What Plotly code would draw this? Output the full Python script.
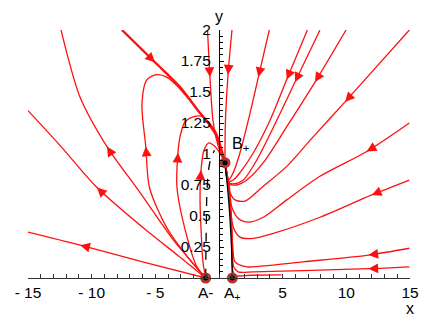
import numpy as np
import plotly.graph_objects as go

# fixed points
pt_x = [-1.05, 1.05, 0.47]
pt_y = [0.0, 0.0, 0.93]

# trajectories leaving A- (flow order)
l1_x = [-1.05, -6.0, -10.9, -15.0]
l1_y = [0.0, 0.13, 0.265, 0.37]
l2_x = [-1.05, -3.2, -5.42, -9.58, -12.49, -15.0]
l2_y = [0.0, 0.18, 0.36, 0.73, 1.07, 1.35]
l3_x = [-1.05, -2.3, -3.61, -6.21, -8.8, -10.92, -11.94, -12.45]
l3_y = [0.0, 0.15, 0.31, 0.69, 1.06, 1.46, 1.81, 2.02]
l4_x = [-1.05, -2.4, -4.13, -5.46, -5.75, -6.05, -5.66, -4.9, -4.1, -3.2, -1.49, -0.31, 0.47]
l4_y = [0.0, 0.16, 0.41, 0.73, 1.06, 1.40, 1.60, 1.64, 1.62, 1.54, 1.33, 1.18, 0.93]
l5_x = [-1.05, -1.73, -2.51, -3.3, -3.22, -3.06, -2.67, -2.04, -1.26, -0.71, -0.31, 0.47]
l5_y = [0.0, 0.09, 0.33, 0.73, 1.01, 1.14, 1.26, 1.30, 1.30, 1.22, 1.16, 0.93]
l6_x = [-1.05, -1.26, -1.41, -1.49, -1.41, -1.18, -0.79, -0.31, 0.16, 0.47]
l6_y = [0.0, 0.13, 0.39, 0.63, 0.87, 1.03, 1.09, 1.06, 0.99, 0.93]

# trajectories coming in from the top / right towards B+
t_x = [-7.62, -5.03, -3.06, -1.49, -0.31, 0.47]
t_y = [2.0, 1.74, 1.54, 1.33, 1.18, 0.93]
l7_x = [-0.9, -0.71, -0.47, -0.08, 0.47]
l7_y = [2.0, 1.62, 1.27, 1.07, 0.93]
r1_x = [1.02, 0.71, 0.5, 0.47]
r1_y = [2.0, 1.64, 1.25, 0.93]
r2_x = [3.95, 3.09, 2.44, 1.65, 1.12, 0.73, 0.47]
r2_y = [2.0, 1.62, 1.33, 1.01, 0.85, 0.79, 0.93]
r3_x = [6.94, 5.32, 4.0, 2.7, 1.65, 1.12, 0.73, 0.47]
r3_y = [2.0, 1.60, 1.27, 1.01, 0.85, 0.79, 0.78, 0.93]
r4_x = [7.93, 5.97, 4.53, 2.96, 1.91, 1.26, 0.75, 0.47]
r4_y = [2.0, 1.58, 1.27, 0.95, 0.79, 0.76, 0.77, 0.93]
r5_x = [9.98, 7.54, 5.32, 3.48, 2.18, 1.39, 0.8, 0.47]
r5_y = [2.0, 1.58, 1.22, 0.93, 0.79, 0.75, 0.76, 0.93]
r6_x = [14.95, 9.9, 7.41, 5.32, 3.48, 2.04, 1.26, 0.86, 0.63, 0.47]
r6_y = [2.0, 1.42, 1.14, 0.90, 0.74, 0.62, 0.63, 0.69, 0.79, 0.93]
r7_x = [14.95, 11.6, 7.93, 5.32, 3.48, 2.3, 1.52, 1.0, 0.81, 0.47]
r7_y = [1.25, 1.02, 0.82, 0.63, 0.49, 0.45, 0.48, 0.575, 0.74, 0.93]
r8_x = [14.95, 12.0, 7.93, 4.27, 2.7, 1.65, 1.12, 0.9, 0.72, 0.47]
r8_y = [0.79, 0.67, 0.49, 0.36, 0.32, 0.33, 0.41, 0.575, 0.76, 0.93]
r9_x = [14.95, 11.73, 6.62, 3.48, 2.18, 1.26, 1.08, 0.95, 0.78, 0.47]
r9_y = [0.24, 0.185, 0.13, 0.097, 0.09, 0.13, 0.25, 0.5, 0.73, 0.93]
r10_x = [14.95, 11.73, 6.62, 2.7, 1.5, 1.15, 1.05, 0.93, 0.77, 0.47]
r10_y = [0.09, 0.075, 0.06, 0.05, 0.05, 0.09, 0.3, 0.52, 0.74, 0.93]
r11_x = [4.9, 2.5, 1.3, 1.08, 1.0, 0.9, 0.76, 0.47]
r11_y = [0.025, 0.022, 0.02, 0.06, 0.35, 0.55, 0.75, 0.93]

# separatrices
sep_left_x = [-1.05, -1.0, -0.92, -0.7, -0.35]
sep_left_y = [0.0, 0.4, 0.75, 0.94, 1.03]
sep_right_x = [1.05, 0.98, 0.85, 0.68, 0.47]
sep_right_y = [0.0, 0.25, 0.5, 0.72, 0.93]

x_ticks = [-15, -10, -5, -1.05, 1.05, 5, 10, 15]
x_labels = ['- 15', '- 10', '- 5', 'A-', 'A<sub>+</sub>', '5', '10', '15']
y_ticks = [0.25, 0.5, 0.75, 1, 1.25, 1.5, 1.75, 2]
y_labels = ['0.25', '0.5', '0.75', '1', '1.25', '1.5', '1.75', '2']

# (x, y, index of arrow, line width)
curves = [
    (l1_x, l1_y, 2, 1.3), (l2_x, l2_y, 3, 1.3), (l3_x, l3_y, 4, 1.3),
    (l4_x, l4_y, 4, 1.3), (l5_x, l5_y, 4, 1.3), (l6_x, l6_y, 4, 1.3),
    (t_x, t_y, 1, 2.4), (l7_x, l7_y, 1, 1.3), (r1_x, r1_y, 1, 1.3),
    (r2_x, r2_y, 1, 1.3), (r3_x, r3_y, 1, 1.3), (r4_x, r4_y, 1, 1.3),
    (r5_x, r5_y, 1, 1.3), (r6_x, r6_y, 1, 1.3), (r7_x, r7_y, 1, 1.3),
    (r8_x, r8_y, 1, 1.3), (r9_x, r9_y, 1, 1.3), (r10_x, r10_y, 1, 1.3),
    (r11_x, r11_y, None, 1.3),
]

RED = '#ff1010'
FONT = 'Liberation Sans, Arial, sans-serif'

# pixel scale of the axes, used only to orient arrowheads
sx = 382 / 30
sy = 248 / 2

fig = go.Figure()
annotations = []

for cx, cy, ai, w in curves:
    fig.add_trace(go.Scatter(
        x=cx, y=cy, mode='lines',
        line=dict(color=RED, width=w, shape='spline', smoothing=0.8),
        hoverinfo='skip', showlegend=False
    ))
    if ai is not None:
        dx = (cx[ai + 1] - cx[ai - 1]) * sx
        dy = (cy[ai + 1] - cy[ai - 1]) * sy
        n = np.hypot(dx, dy)
        annotations.append(dict(
            x=cx[ai], y=cy[ai], ax=-dx / n * 10, ay=dy / n * 10,
            showarrow=True, arrowhead=2, arrowsize=1.5, arrowwidth=1.3,
            arrowcolor=RED, standoff=0, text=''
        ))

fig.add_trace(go.Scatter(
    x=sep_left_x, y=sep_left_y, mode='lines',
    line=dict(color='black', width=1.3, dash='dash', shape='spline'),
    hoverinfo='skip', showlegend=False
))
fig.add_trace(go.Scatter(
    x=sep_right_x, y=sep_right_y, mode='lines',
    line=dict(color='black', width=1.3, shape='spline'),
    hoverinfo='skip', showlegend=False
))

fig.add_trace(go.Scatter(
    x=pt_x, y=pt_y, mode='markers',
    marker=dict(color='black', size=8, line=dict(color='#b8322a', width=3)),
    cliponaxis=False, hoverinfo='skip', showlegend=False
))

annotations += [
    dict(x=pt_x[2] + 1.2, y=pt_y[2] + 0.15, text='B<sub>+</sub>', showarrow=False,
         font=dict(family=FONT, size=16, color='black')),
    dict(x=0, y=1.055, yref='paper', yanchor='middle', text='y', showarrow=False,
         font=dict(family=FONT, size=16, color='black')),
    dict(x=15, y=-0.08, yref='paper', yanchor='top', text='x', showarrow=False,
         font=dict(family=FONT, size=16, color='black')),
]

# the page body adds an 8px offset, so margins are shifted to compensate
fig.update_layout(
    width=436, height=320, autosize=False,
    margin=dict(l=20, r=34, t=22, b=50, autoexpand=False),
    plot_bgcolor='white', paper_bgcolor='white',
    font=dict(family=FONT, size=15.5, color='black'),
    annotations=annotations,
    xaxis=dict(
        range=[-15, 15], showgrid=False, zeroline=False, automargin=False,
        showline=True, linecolor='#333', linewidth=1.2,
        tickmode='array', tickvals=x_ticks, ticktext=x_labels,
        ticks='inside', ticklen=4, tickcolor='#333',
        minor=dict(tickmode='linear', tick0=0, dtick=1, ticks='inside',
                   ticklen=4, tickcolor='#333'),
        ticklabelstandoff=0
    ),
    yaxis=dict(
        range=[0, 2], showgrid=False, zeroline=False, automargin=False,
        anchor='free', position=0.5,
        showline=True, linecolor='black', linewidth=1.2,
        tickmode='array', tickvals=y_ticks, ticktext=y_labels,
        ticks='inside', ticklen=4, tickcolor='black',
        minor=dict(tickmode='linear', tick0=0, dtick=0.05, ticks='inside',
                   ticklen=3, tickcolor='black'),
        ticklabelstandoff=5
    )
)

fig.write_html("out.html")
